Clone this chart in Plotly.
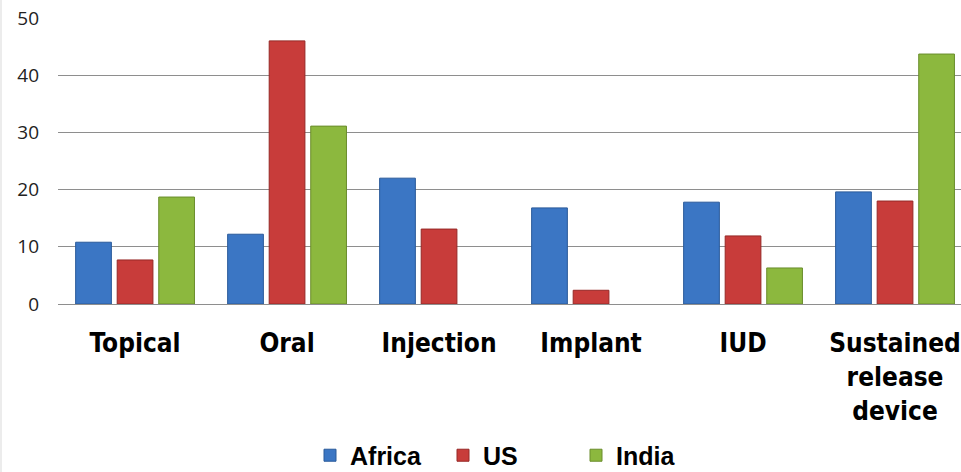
import plotly.graph_objects as go

categories = ["Topical", "Oral", "Injection", "Implant", "IUD", "Sustained<br>release<br>device"]
africa = [10.8, 12.2, 22.0, 16.8, 17.8, 19.6]
us = [7.7, 46.0, 13.1, 2.4, 11.9, 18.0]
india = [18.7, 31.1, 0, 0, 6.3, 43.7]
y_ticks = [0, 10, 20, 30, 40, 50]

series = [
    ("Africa", africa, "#3b76c4", "#2a5a9a"),
    ("US", us, "#c83c3a", "#962826"),
    ("India", india, "#8cb83e", "#6a8d2c"),
]

W, H = 961, 472
ML, MR, MT, MB = 58, 0, 18, 168

fig = go.Figure()
for name, vals, fill, edge in series:
    fig.add_trace(go.Bar(
        x=list(range(len(categories))), y=vals, name=name,
        marker=dict(
            color=fill,
            # no outline on empty bars so zero values leave no trace
            line=dict(color=edge, width=[1 if v > 0 else 0 for v in vals]),
        ),
    ))

fig.update_layout(
    width=W, height=H,
    margin=dict(l=ML, r=MR, t=MT, b=MB, autoexpand=False),
    paper_bgcolor="white", plot_bgcolor="white",
    barmode="group", bargap=0.18, bargroupgap=0.14,
    showlegend=True,
    legend=dict(
        orientation="h", x=0.5, xanchor="center",
        yref="container", y=0.035, yanchor="middle",
        font=dict(family="Liberation Sans, Arial", size=25, color="black", weight="bold"),
        itemwidth=30, entrywidth=88, bgcolor="rgba(0,0,0,0)",
    ),
    xaxis=dict(
        range=[-0.507, 5.434], automargin=False,
        tickmode="array", tickvals=list(range(len(categories))), ticktext=categories,
        tickfont=dict(family="DejaVu Sans Condensed, Liberation Sans Narrow", size=26, color="black", weight="bold"),
        ticklabelstandoff=21,
        showgrid=False, showline=False, zeroline=False, ticks="",
    ),
    yaxis=dict(
        range=[0, 50], tickvals=y_ticks, automargin=False,
        tickfont=dict(family="Open Sans", size=19, color="#222222"),
        showgrid=True, gridcolor="#8e8e8e", gridwidth=1,
        zeroline=True, zerolinecolor="#8e8e8e", zerolinewidth=1,
        ticks="", ticklabelstandoff=18, showline=False,
    ),
    shapes=[dict(
        type="line", xref="paper", yref="paper",
        x0=-(ML - 1) / (W - ML - MR), x1=-(ML - 1) / (W - ML - MR),
        y0=-MB / (H - MT - MB), y1=1 + MT / (H - MT - MB),
        line=dict(color="#d9d9d9", width=1),
    )],
)

fig.write_html("out.html")
